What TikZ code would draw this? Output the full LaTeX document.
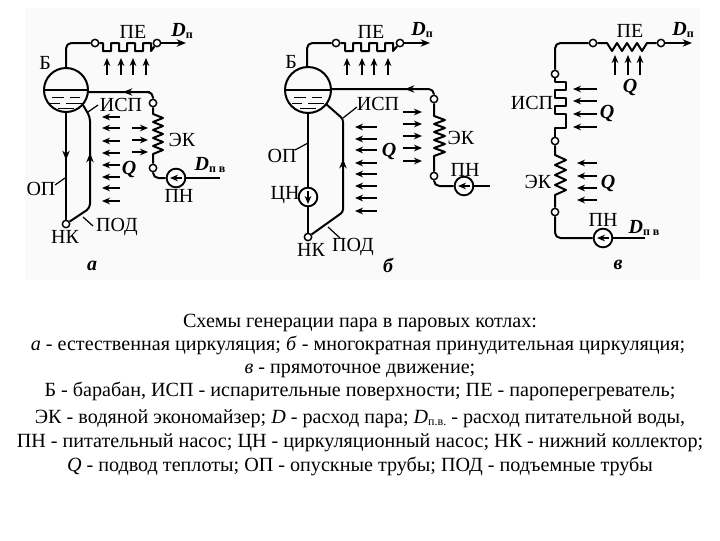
\documentclass[tikz,border=0pt]{standalone}
\usepackage{fontspec}
\setmainfont{Liberation Serif}
\usetikzlibrary{arrows.meta}
\tikzset{
	pipe/.style={line width=1.5pt, line join=round},
	heat/.style={line width=1.1pt, -{Stealth[length=6pt,width=5pt]}},
	flow/.style={line width=1.3pt, -{Stealth[length=7pt,width=5.5pt]}},
	tick/.style={line width=0.9pt},
	tap/.style={circle, draw, line width=1.1pt, fill=white, inner sep=0pt, minimum size=5.5pt},
	pump/.style={circle, draw, line width=1.4pt, fill=white, inner sep=0pt, minimum size=14pt},
	lab/.style={inner sep=0pt, font=\fontsize{15}{16}\selectfont},
	captext/.style={inner sep=0pt, anchor=base, font=\fontsize{15.1}{16}\selectfont}
}
\newcommand{\Dlab}[1]{{\bfseries\itshape D}\raisebox{-1.5pt}{\fontsize{9}{9}\selectfont\bfseries #1}}
\begin{document}
\begin{tikzpicture}[x=0.75pt, y=-0.75pt]
	\useasboundingbox (0,0) rectangle (720,540);
	\fill[black!2] (25,8) rectangle (700,280);
	% Scheme a
	\draw[pipe] (66,90) circle (22);
	\draw[pipe] (44,90) -- (88,90);
	\draw[thin] (52,97) -- (64,97) (70,97) -- (80,97) (50,103) -- (60,103) (66,103) -- (82,103) (58,108) -- (74,108);
	\node[tap] (a1) at (95,43) {};
	\node[tap] (a2) at (157,43) {};
	\node[tap] (a3) at (153,103) {};
	\node[tap] (a4) at (153,168) {};
	\node[tap] (ank) at (66,224) {};
	\node[pump] (apn) at (176,178) {};
	\coordinate (atop) at (66,68);
	\coordinate (afeed) at (88,92);
	\coordinate (aout) at (186,43);
	\coordinate (ain) at (220,178);
	\draw[pipe, rounded corners=4pt] (atop) |- (a1);
	\draw[pipe] (a1) -- (103,43) -- (103,51) -- (111,51) -- (111,43) -- (119,43) -- (119,51) -- (127,51) -- (127,43) -- (135,43) -- (135,51) -- (143,51) -- (143,43) -- (151,43) -- (151,51) -- (a2);
	\draw[flow] (a2) -- (aout);
	\draw[pipe, rounded corners=4pt] (afeed) -| (a3);
	\draw[flow] (150,92) -- (123,92);
	\draw[pipe] (a3) -- (153,114) -- (163,118) -- (153,122) -- (163,126) -- (153,130) -- (163,134) -- (153,138) -- (163,142) -- (153,146) -- (163,150) -- (153,154) -- (a4);
	\draw[pipe, rounded corners=4pt] (a4) |- (apn);
	\draw[pipe] (apn) -- (ain);
	\draw[heat] (182,178) -- (170,178);
	\draw[pipe] (66,112) -- (ank);
	\draw[flow] (66,140) -- (66,160);
	\draw[pipe, rounded corners=3pt] (83,105) -- (90,117) -- (90,208) -- (ank);
	\draw[flow] (90,170) -- (90,153);
	% Heat arrows of a
	\draw[heat] (107,75) -- (107,58);
	\draw[heat] (121,75) -- (121,58);
	\draw[heat] (133,75) -- (133,58);
	\draw[heat] (146,75) -- (146,58);
	\draw[heat] (120,117) -- (102,117);
	\draw[heat] (120,128) -- (102,128);
	\draw[heat] (120,141) -- (102,141);
	\draw[heat] (120,153) -- (102,153);
	\draw[heat] (120,165) -- (102,165);
	\draw[heat] (120,177) -- (102,177);
	\draw[heat] (120,188) -- (102,188);
	\draw[heat] (120,201) -- (102,201);
	\draw[heat] (132,128) -- (148,128);
	\draw[heat] (132,140) -- (148,140);
	\draw[heat] (132,152) -- (148,152);
	% Labels of a
	\draw[tick] (88,112) -- (98,105);
	\draw[tick] (55,185) -- (65,178);
	\draw[tick] (83,217) -- (93,226);
	\node[lab] (apelab) at (133,32) {ПЕ};
	\node[lab] (adlab) at (182,31) {\Dlab{п}};
	\node[lab] (ablab) at (45,63) {Б};
	\node[lab] (aislab) at (121,105) {ИСП};
	\node[lab] (aeklab) at (182,140) {ЭК};
	\node[lab] (aqlab) at (129,169) {\bfseries\itshape Q};
	\node[lab] (adinlab) at (210,165) {\Dlab{п в}};
	\node[lab] (apnlab) at (179,196) {ПН};
	\node[lab] (aoplab) at (41,189) {ОП};
	\node[lab] (anklab) at (65,237) {НК};
	\node[lab] (apodlab) at (117,227) {ПОД};
	\node[lab] (aname) at (92,266) {\bfseries\itshape а};
	% Scheme b
	\draw[pipe] (308,90) circle (23);
	\draw[pipe] (285,90) -- (331,90);
	\draw[thin] (294,97) -- (306,97) (312,97) -- (322,97) (292,103) -- (302,103) (308,103) -- (324,103) (300,108) -- (316,108);
	\node[tap] (b1) at (336,43) {};
	\node[tap] (b2) at (400,43) {};
	\node[tap] (b3) at (434,99) {};
	\node[tap] (b4) at (434,176) {};
	\node[tap] (bnk) at (308,237) {};
	\node[pump] (bpn) at (464,186) {};
	\node[pump] (bcn) at (308,197) {};
	\coordinate (btop) at (307,67);
	\coordinate (bfeed) at (331,89);
	\coordinate (bout) at (430,43);
	\coordinate (bin) at (490,186);
	\draw[pipe, rounded corners=4pt] (btop) |- (b1);
	\draw[pipe] (b1) -- (345,43) -- (345,51) -- (353,51) -- (353,43) -- (361,43) -- (361,51) -- (369,51) -- (369,43) -- (377,43) -- (377,51) -- (385,51) -- (385,43) -- (393,43) -- (393,51) -- (b2);
	\draw[flow] (b2) -- (bout);
	\draw[pipe, rounded corners=4pt] (bfeed) -| (b3);
	\draw[flow] (425,89) -- (405,89);
	\draw[pipe] (b3) -- (434,116) -- (445,120) -- (434,124) -- (445,128) -- (434,132) -- (445,136) -- (434,140) -- (445,144) -- (434,148) -- (445,152) -- (434,156) -- (b4);
	\draw[pipe, rounded corners=4pt] (b4) |- (bpn);
	\draw[pipe] (bpn) -- (bin);
	\draw[heat] (470,186) -- (458,186);
	\draw[pipe] (308,113) -- (bcn);
	\draw[pipe] (bcn) -- (bnk);
	\draw[heat] (308,191) -- (308,204);
	\draw[pipe, rounded corners=2pt] (326,104) -- (343,119) -- (343,212) -- (bnk);
	\draw[flow] (343,175) -- (343,159);
	% Heat arrows of b
	\draw[heat] (347,75) -- (347,58);
	\draw[heat] (362,75) -- (362,58);
	\draw[heat] (374,75) -- (374,58);
	\draw[heat] (388,75) -- (388,58);
	\draw[heat] (377,127) -- (355,127);
	\draw[heat] (377,139) -- (355,139);
	\draw[heat] (377,150) -- (355,150);
	\draw[heat] (377,163) -- (355,163);
	\draw[heat] (377,174) -- (355,174);
	\draw[heat] (377,186) -- (355,186);
	\draw[heat] (377,198) -- (355,198);
	\draw[heat] (377,211) -- (355,211);
	\draw[heat] (403,112) -- (422,112);
	\draw[heat] (403,124) -- (422,124);
	\draw[heat] (403,136) -- (422,136);
	\draw[heat] (403,148) -- (422,148);
	\draw[heat] (403,161) -- (422,161);
	% Labels of b
	\draw[tick] (343,118) -- (357,107);
	\draw[tick] (295,150) -- (308,143);
	\draw[tick] (328,227) -- (340,238);
	\node[lab] (bpelab) at (371,32) {ПЕ};
	\node[lab] (bdlab) at (422,30) {\Dlab{п}};
	\node[lab] (bblab) at (291,62) {Б};
	\node[lab] (bislab) at (378,104) {ИСП};
	\node[lab] (beklab) at (461,138) {ЭК};
	\node[lab] (bqlab) at (389,151) {\bfseries\itshape Q};
	\node[lab] (bpnlab) at (465,170) {ПН};
	\node[lab] (boplab) at (282,156) {ОП};
	\node[lab] (bcnlab) at (285,195) {ЦН};
	\node[lab] (bnklab) at (311,250) {НК};
	\node[lab] (bpodlab) at (353,247) {ПОД};
	\node[lab] (bname) at (388,265) {\bfseries\itshape б};
	% Scheme c
	\node[tap] (c1) at (555,74) {};
	\node[tap] (c2) at (593,43) {};
	\node[tap] (c3) at (661,43) {};
	\node[tap] (c4) at (555,141) {};
	\node[tap] (c5) at (555,212) {};
	\node[pump] (cpn) at (603,238) {};
	\coordinate (cout) at (692,43);
	\coordinate (cin) at (645,238);
	\draw[pipe, rounded corners=4pt] (c1) |- (c2);
	\draw[pipe] (c2) -- (607,43) -- (612,51) -- (617,43) -- (622,51) -- (627,43) -- (632,51) -- (637,43) -- (642,51) -- (647,43) -- (c3);
	\draw[flow] (c3) -- (cout);
	\draw[pipe] (c1) -- (555,82) -- (566,82) -- (566,90) -- (555,90) -- (555,98) -- (566,98) -- (566,106) -- (555,106) -- (555,114) -- (566,114) -- (566,128) -- (555,128) -- (c4);
	\draw[pipe] (c4) -- (555,155) -- (566,160) -- (555,165) -- (566,170) -- (555,175) -- (566,180) -- (555,185) -- (566,190) -- (555,195) -- (c5);
	\draw[pipe, rounded corners=4pt] (c5) |- (cpn);
	\draw[pipe] (cpn) -- (cin);
	\draw[heat] (609,238) -- (597,238);
	% Heat arrows of c
	\draw[heat] (615,75) -- (615,55);
	\draw[heat] (628,75) -- (628,55);
	\draw[heat] (640,75) -- (640,55);
	\draw[heat] (597,89) -- (573,89);
	\draw[heat] (597,101) -- (573,101);
	\draw[heat] (597,114) -- (573,114);
	\draw[heat] (597,127) -- (573,127);
	\draw[heat] (597,163) -- (577,163);
	\draw[heat] (597,176) -- (577,176);
	\draw[heat] (597,188) -- (577,188);
	\draw[heat] (597,200) -- (577,200);
	% Labels of c
	\node[lab] (cpelab) at (630,31) {ПЕ};
	\node[lab] (cdlab) at (683,30) {\Dlab{п}};
	\node[lab] (cq1lab) at (630,87) {\bfseries\itshape Q};
	\node[lab] (cislab) at (532,103) {ИСП};
	\node[lab] (cq2lab) at (607,113) {\bfseries\itshape Q};
	\node[lab] (ceklab) at (538,182) {ЭК};
	\node[lab] (cq3lab) at (608,183) {\bfseries\itshape Q};
	\node[lab] (cpnlab) at (603,220) {ПН};
	\node[lab] (cdinlab) at (644,228) {\Dlab{п в}};
	\node[lab] (cname) at (618,265) {\bfseries\itshape в};
	% Caption
	\node[captext] (line1) at (360,327) {Схемы генерации пара в паровых котлах:};
	\node[captext] (line2) at (358,350) {\textit{а} - естественная циркуляция; \textit{б} - многократная принудительная циркуляция;};
	\node[captext] (line3) at (360,373) {\textit{в} - прямоточное движение;};
	\node[captext] (line4) at (360,396) {Б - барабан, ИСП - испарительные поверхности; ПЕ - пароперегреватель;};
	\node[captext] (line5) at (360,423) {ЭК - водяной экономайзер; \textit{D} - расход пара; \textit{D}\raisebox{-2pt}{\fontsize{9}{9}\selectfont п.в.} - расход питательной воды,};
	\node[captext] (line6) at (360,447) {ПН - питательный насос; ЦН - циркуляционный насос; НК - нижний коллектор;};
	\node[captext] (line7) at (360,471) {\textit{Q} - подвод теплоты; ОП - опускные трубы; ПОД - подъемные трубы};
\end{tikzpicture}
\end{document}
